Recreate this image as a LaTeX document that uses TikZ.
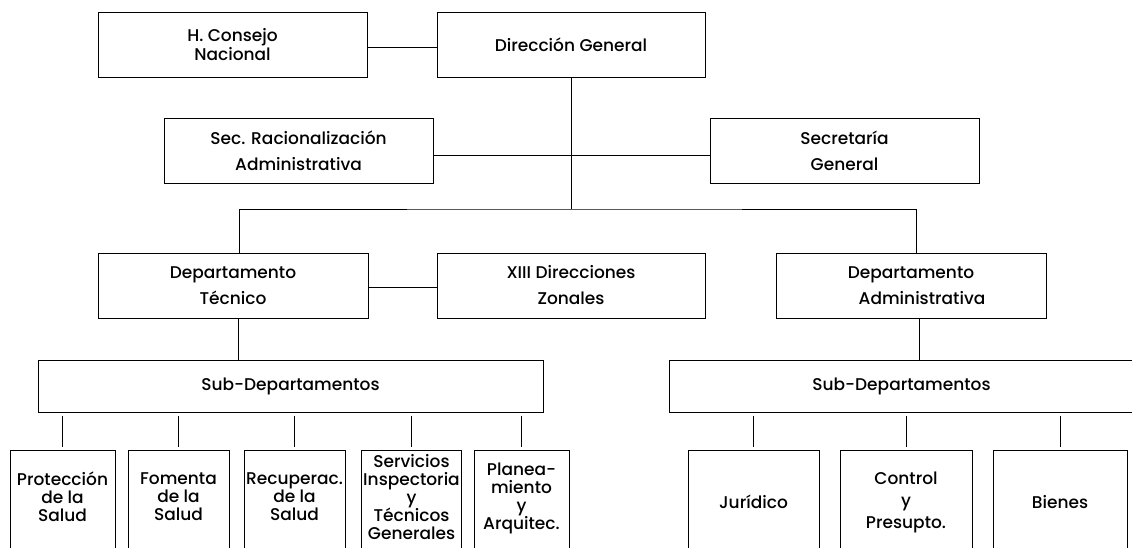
\documentclass[tikz,border=0pt]{standalone}
\usepackage{fontspec}
\IfFontExistsTF{Poppins Medium}{\setmainfont{Poppins Medium}}{\setmainfont{Poppins}}
\usepackage{tikz}

\newcommand\letra[1]{\fontsize{17}{#1}\selectfont}

\tikzset{
  unidad/.style={draw, line width=1pt, inner sep=0pt, align=center,
    minimum height=65pt, font=\letra{26}},
  caja/.style={draw, line width=1pt, anchor=north, minimum height=110pt},
  texto/.style={inner sep=0pt, align=center, font=\letra{18}},
  enlace/.style={line width=1pt},
  rama/.style={line width=1pt, shorten >=3pt, shorten <=3pt}
}

\begin{document}
\begin{tikzpicture}[x=1pt,y=-1pt]
\useasboundingbox (0,0) rectangle (1132,547);

% direccion
\node[unidad, minimum width=269pt, font=\letra{19}] (consejo) at (232.5,44.5) {H. Consejo\\Nacional};
\node[unidad, minimum width=268pt] (direccion) at (571,44.5) {Direcci\'on General};
\node[unidad, minimum width=269pt] (secrac) at (298.5,150.5) {Sec. Racionalizaci\'on\\Administrativa};
\node[unidad, minimum width=269pt] (secgen) at (844.5,150.5) {Secretar\'ia\\General};

% departamentos
\node[unidad, minimum width=270pt] (depttec) at (233,285.5) {Departamento\\T\'ecnico};
\node[unidad, minimum width=268pt] (zonales) at (571,285.5) {XIII Direcciones\\Zonales};
\node[unidad, minimum width=270pt] (deptadm) at (911,285.5) {Departamento\\\hspace*{22pt}Administrativa};

\node[unidad, minimum width=505pt, minimum height=52pt] (subtec) at (290.5,386) {Sub-Departamentos};
\node[unidad, minimum width=465pt, minimum height=52pt] (subadm) at (901.5,386) {Sub-Departamentos};

% sub-departamentos (abiertos abajo)
\node[caja, minimum width=105pt] (proteccion) at (62.5,450) {};
\node[caja, minimum width=101pt] (fomento) at (178.5,450) {};
\node[caja, minimum width=101pt] (recuperac) at (294.5,450) {};
\node[caja, minimum width=100pt] (servicios) at (411.5,450) {};
\node[caja, minimum width=95pt] (planea) at (521.5,450) {};
\node[caja, minimum width=131pt] (juridico) at (753.5,450) {};
\node[caja, minimum width=132pt] (control) at (906,450) {};
\node[caja, minimum width=134pt] (bienes) at (1060,450) {};

\node[texto] (proteccion-t) at ([yshift=-47pt]proteccion.north) {Protecci\'on\\de la\\Salud};
\node[texto] (fomento-t) at ([yshift=-47pt]fomento.north) {Fomenta\\de la\\Salud};
\node[texto] (recuperac-t) at ([yshift=-47pt]recuperac.north) {Recuperac.\\de la\\Salud};
\node[texto] (servicios-t) at ([yshift=-47pt]servicios.north) {Servicios\\Inspectoria\\y\\T\'ecnicos\\Generales};
\node[texto] (planea-t) at ([yshift=-48pt]planea.north) {Planea-\\miento\\y\\Arquitec.};
\node[texto] (juridico-t) at ([yshift=-52pt]juridico.north) {Jur\'idico};
\node[texto, font=\letra{22}] (control-t) at ([yshift=-52pt]control.north) {Control\\y\\Presupto.};
\node[texto] (bienes-t) at ([yshift=-52pt]bienes.north) {Bienes};

\coordinate (bus) at (571,209);

\draw[enlace] ([yshift=-2.5pt]consejo.east) -- ([yshift=-2.5pt]direccion.west);
\draw[enlace] (direccion.south) -- (bus);
\draw[enlace] ([yshift=-4.5pt]secrac.east) -- ([yshift=-4.5pt]secgen.west);
\draw[enlace] ([xshift=6pt]depttec.north) |- (bus) -| ([xshift=5pt]deptadm.north);
\draw[enlace] ([yshift=-1.5pt]depttec.east) -- ([yshift=-1.5pt]zonales.west);
\draw[enlace] ([xshift=5pt]depttec.south) -- ([xshift=5pt]depttec.south |- subtec.north);
\draw[enlace] ([xshift=8pt]deptadm.south) -- ([xshift=8pt]deptadm.south |- subadm.north);

\foreach \hijo in {proteccion,fomento,recuperac,servicios,planea}
  \draw[rama] (\hijo.north |- subtec.south) -- (\hijo.north);
\foreach \hijo in {juridico,control,bienes}
  \draw[rama] (\hijo.north |- subadm.south) -- (\hijo.north);
\end{tikzpicture}
\end{document}
